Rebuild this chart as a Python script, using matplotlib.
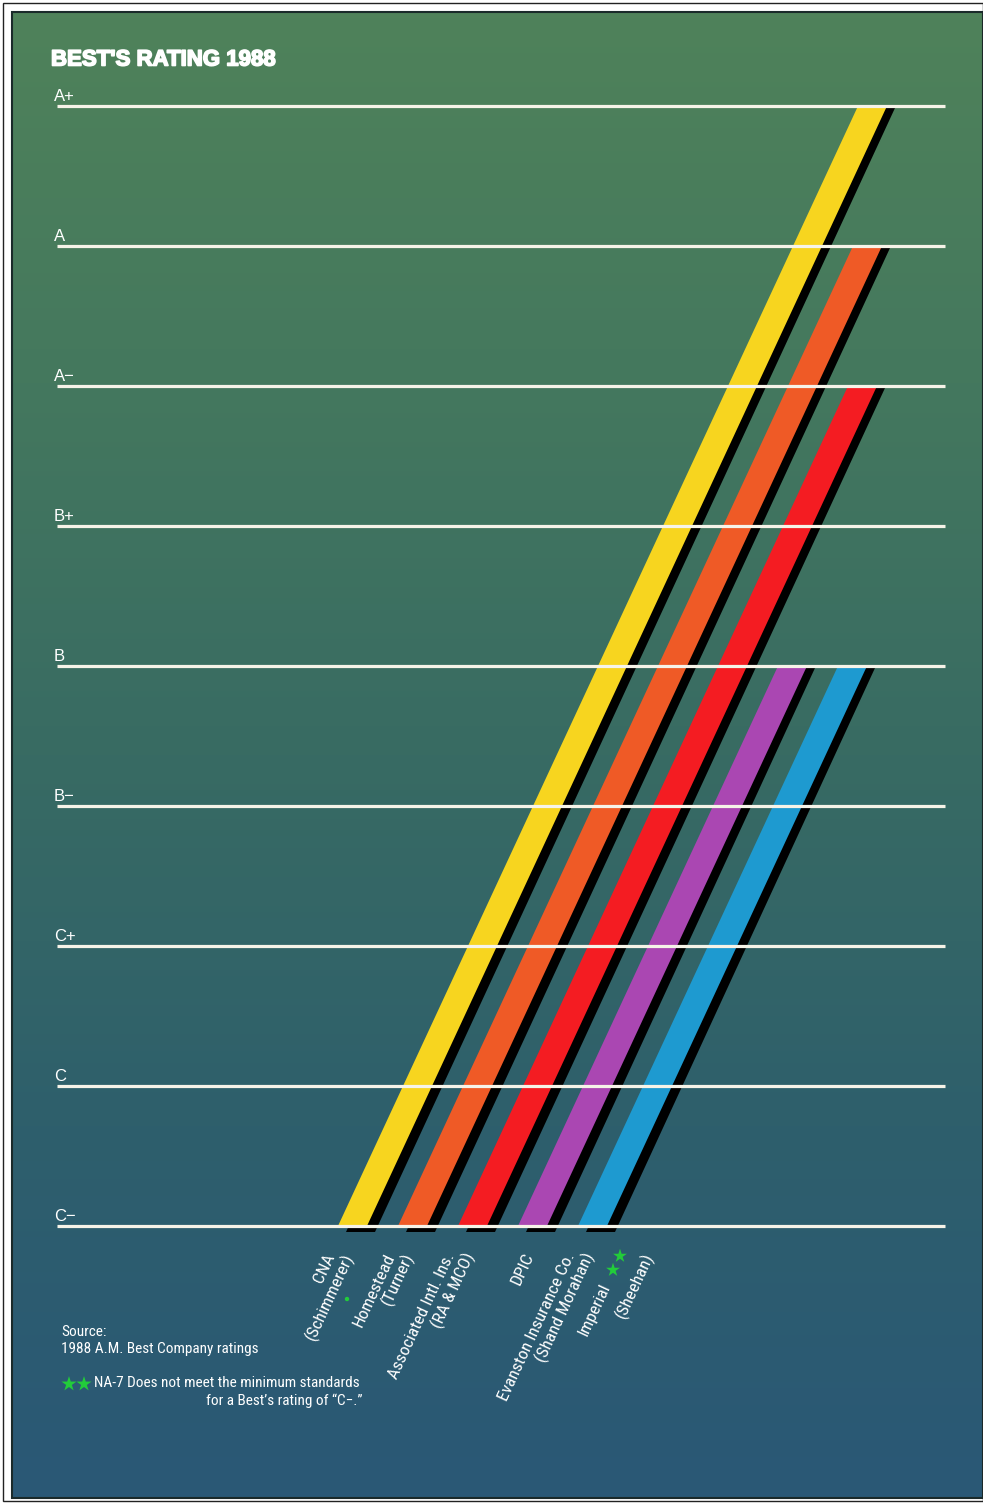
import matplotlib
matplotlib.use("Agg")
import matplotlib.pyplot as plt
import matplotlib.patheffects as pe
import numpy as np
from matplotlib.patches import Polygon, Rectangle
from matplotlib.colors import LinearSegmentedColormap

# rating scale, bottom to top
ratings = ["C\u2212", "C", "C+", "B\u2212", "B", "B+", "A\u2212", "A", "A+"]

# companies and their 1988 rating (None = NA-7, no bar)
companies = ["CNA", "Homestead", "Associated Intl. Ins.", "DPIC",
             "Evanston Insurance Co.", "Imperial"]
people = ["(Schimmerer)", "(Turner)", "(RA & MCO)", None,
          "(Shand Morahan)", "(Sheehan)"]
company_rating = ["A+", "A", "A\u2212", "B", "B", None]
bar_colors = ["#f7d51f", "#ef5a26", "#f41c22", "#aa47b2", "#1e9ad0", None]

title = "BEST'S RATING 1988"
source_lines = ["Source:", "1988 A.M. Best Company ratings"]
note_lines = ["NA-7 Does not meet the minimum standards",
              "for a Best\u2019s rating of \u201cC\u2212.\u201d"]

# layout (pixels)
W, H = 983, 1504
BASE_PX = 1226      # row of the C- line
STEP_PX = 140       # distance between rating lines
X0 = 338            # left foot of first bar
GAP = 60            # distance between bar feet
BAR_W = 29
SLANT = 65          # horizontal shift per rating step

def lvl(py):
    return (BASE_PX - py) / STEP_PX

narrow = ["Liberation Sans Narrow", "Roboto Condensed", "Liberation Sans", "DejaVu Sans"]
plain = ["Liberation Sans", "DejaVu Sans"]
GREEN = "#22cc3a"

fig = plt.figure(figsize=(W / 100, H / 100), dpi=100, facecolor="white")
ax = fig.add_axes([0, 0, 1, 1])
ax.set_xlim(0, W)
ax.set_ylim(lvl(H), lvl(0))
ax.axis("off")

# page frame and background panel
fig.add_artist(Rectangle((3 / W, 3 / H), (W - 3) / W, (H - 6) / H, transform=fig.transFigure,
                         fill=False, ec="#222222", lw=1.0))
bg = LinearSegmentedColormap.from_list("bg", ["#4f825a", "#44785e", "#386b63", "#2e5f6c", "#2a5876"])
grad = np.linspace(0, 1, 256).reshape(-1, 1)
ax.imshow(grad, cmap=bg, aspect="auto", extent=[12, W, lvl(1498), lvl(12)], zorder=0)
ax.add_patch(Rectangle((12, lvl(1498)), W - 12, lvl(12) - lvl(1498), fill=False,
                       ec="#1a2a2a", lw=1.5, zorder=1))

# rating lines and labels
for i, r in enumerate(ratings):
    ax.plot([57, 945], [i, i], color="#f6f3e8", lw=2.3, solid_capstyle="butt", zorder=5)
    ax.text(54, i + 5 / STEP_PX, r, color="white", fontsize=12, family=plain,
            ha="left", va="baseline", zorder=6)

ax.text(51, lvl(60), title, color="white", fontsize=16, fontweight="bold",
        family=plain, ha="left", va="center", zorder=6,
        path_effects=[pe.withStroke(linewidth=1.2, foreground="white")])

# bars with drop shadows
sdx, sdy = 8, 6 / STEP_PX
for i, (rat, col) in enumerate(zip(company_rating, bar_colors)):
    if rat is None:
        continue
    top = ratings.index(rat)
    b = X0 + GAP * i
    pts = np.array([[b, 0], [b + BAR_W, 0], [b + BAR_W + SLANT * top, top], [b + SLANT * top, top]])
    shadow = pts + np.array([sdx, -sdy])
    shadow[2:, 1] = top - 2 / STEP_PX
    ax.add_patch(Polygon(shadow, closed=True, fc="black", ec="none", zorder=2))
    ax.add_patch(Polygon(pts, closed=True, fc=col, ec="none", zorder=3))

# company labels, rotated along the bars
ang = np.degrees(np.arctan2(STEP_PX, SLANT))
ly = lvl(1254)
for i, (c, p) in enumerate(zip(companies, people)):
    b = X0 + GAP * i
    if p is None:
        ax.text(b + 12, ly, c, color="white", fontsize=12.5, family=narrow, rotation=ang,
                rotation_mode="anchor", ha="right", va="center", zorder=6)
        continue
    if company_rating[i] is None:
        # name followed by two green stars
        ax.text(b - 32, lvl(1284), c, color="white", fontsize=12.5, family=narrow,
                rotation=ang, rotation_mode="anchor", ha="right", va="center", zorder=6)
        for k in range(2):
            ax.scatter(b - 18 - 7 * k, lvl(1256 + 14 * k), marker="*", s=110,
                       color=GREEN, edgecolors="none", zorder=6)
    else:
        ax.text(b - 7, ly, c, color="white", fontsize=12.5, family=narrow, rotation=ang,
                rotation_mode="anchor", ha="right", va="center", zorder=6)
    ax.text(b + 12, ly, p, color="white", fontsize=12.5, family=narrow, rotation=ang,
            rotation_mode="anchor", ha="right", va="center", zorder=6)

# small green mark next to Homestead
ax.scatter(X0 + GAP - 51, lvl(1299), marker="o", s=10, color=GREEN,
           edgecolors="none", zorder=6)

# source and footnote
ax.text(61, lvl(1332), source_lines[0], color="white", fontsize=11, family=narrow,
        ha="left", va="center", zorder=6)
ax.text(61, lvl(1349), source_lines[1], color="white", fontsize=11, family=narrow,
        ha="left", va="center", zorder=6)
for k in range(2):
    ax.scatter(69 + 15 * k, lvl(1384), marker="*", s=130, color=GREEN,
               edgecolors="none", zorder=6)
ax.text(94, lvl(1383), note_lines[0], color="white", fontsize=11, family=narrow,
        ha="left", va="center", zorder=6)
ax.text(362, lvl(1401), note_lines[1], color="white", fontsize=11, family=narrow,
        ha="right", va="center", zorder=6)

fig.savefig("out.png", dpi=100, facecolor="white")
